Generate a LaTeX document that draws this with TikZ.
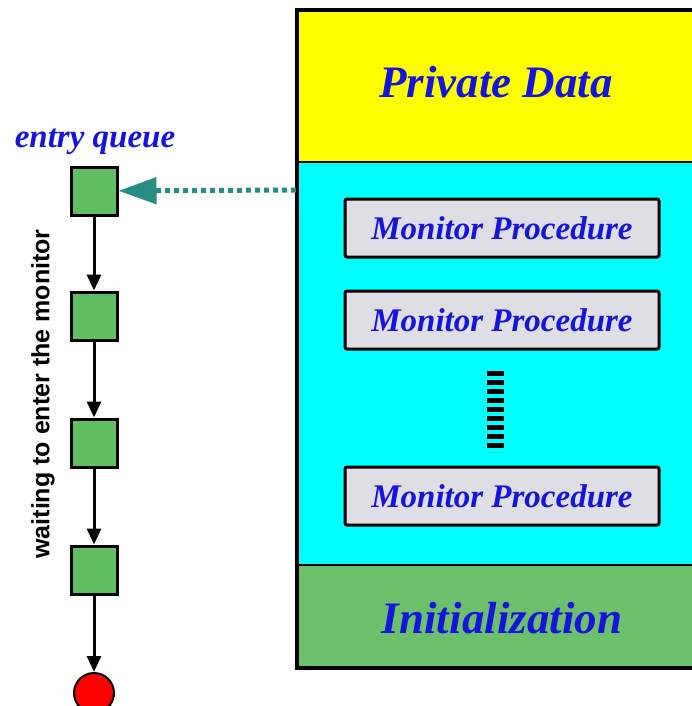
\documentclass[tikz,border=0pt]{standalone}
\usepackage{fontspec}
\setmainfont{Liberation Serif}
\setsansfont{Liberation Sans}
\usetikzlibrary{arrows.meta}
\definecolor{qgreen}{RGB}{98,190,98}
\definecolor{igreen}{RGB}{108,192,108}
\definecolor{mcyan}{RGB}{0,255,255}
\definecolor{myellow}{RGB}{255,255,0}
\definecolor{pgray}{RGB}{222,222,228}
\definecolor{tblue}{RGB}{20,20,220}
\definecolor{teal2}{RGB}{40,140,130}
\begin{document}
\begin{tikzpicture}[x=1pt,y=-1pt,
  qbox/.style={draw=black,line width=3pt,fill=qgreen,minimum width=46pt,minimum height=48pt,inner sep=0pt},
  proc/.style={draw=black,line width=3pt,fill=pgray,rounded corners=2pt,minimum width=314pt,minimum height=58pt,inner sep=0pt,font=\bfseries\itshape\fontsize{33}{36}\selectfont,text=tblue},
  band/.style={inner sep=0pt,font=\bfseries\itshape,text=tblue},
  qarrow/.style={-{Triangle[length=16pt,width=14pt]},line width=3pt,black}]
\useasboundingbox (0,0) rectangle (692,706);
% monitor sections
\fill[myellow] (297,10) rectangle (700,162);
\fill[mcyan] (297,162) rectangle (700,565);
\fill[igreen] (297,565) rectangle (700,668);
\draw[line width=1.5pt] (297,162) -- (700,162);
\draw[line width=1.5pt] (297,565) -- (700,565);
\draw[line width=4pt] (700,10) -- (297,10) -- (297,668) -- (700,668);
\node[band,font=\bfseries\itshape\fontsize{45}{48}\selectfont] (pd) at (496,82) {Private Data};
\node[band,font=\bfseries\itshape\fontsize{45}{48}\selectfont] (init) at (502,618) {Initialization};
\node[proc] (p1) at (502,228) {Monitor Procedure};
\node[proc] (p2) at (502,320) {Monitor Procedure};
\node[proc] (p3) at (502,496) {Monitor Procedure};
\coordinate (dtop) at (495,371);
\coordinate (dbot) at (495,452);
\draw[line width=17pt,dash pattern=on 5pt off 4pt] (dtop) -- (dbot);
% entry queue
\node[band,font=\bfseries\itshape\fontsize{33}{36}\selectfont] (eq) at (95,142) {entry queue};
\node[qbox] (q1) at (94,191) {};
\node[qbox] (q2) at (94,316) {};
\node[qbox] (q3) at (94,443) {};
\node[qbox] (q4) at (94,570) {};
\node[circle,draw=black,line width=2pt,fill=red,minimum size=40pt,inner sep=0pt] (exit) at (94,693) {};
\draw[qarrow] (q1) -- (q2);
\draw[qarrow] (q2) -- (q3);
\draw[qarrow] (q3) -- (q4);
\draw[qarrow] (q4) -- (exit);
\coordinate (src) at (296,190);
\draw[teal2,line width=5pt,dash pattern=on 5pt off 4pt,-{Triangle[length=38pt,width=26pt]}] (src) -- (q1);
\node[rotate=90,font=\sffamily\bfseries\fontsize{25}{28}\selectfont] (wait) at (43,394) {waiting to enter the monitor};
\end{tikzpicture}
\end{document}
